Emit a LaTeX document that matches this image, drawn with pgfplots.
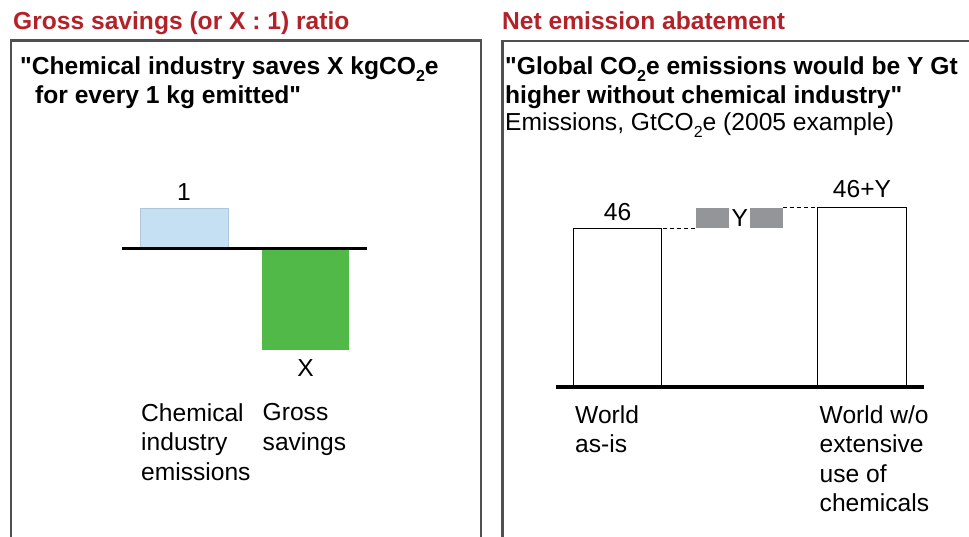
\documentclass[border=0pt]{standalone}
\usepackage{pgfplots}
\pgfplotsset{compat=1.18}
\usepackage{fontspec}
\setmainfont{Liberation Sans}[Ligatures=TeXOff]
\definecolor{titlered}{RGB}{178,34,40}
\definecolor{framegray}{RGB}{80,80,80}
\definecolor{lblue}{RGB}{197,223,243}
\definecolor{lbluedraw}{RGB}{175,200,220}
\definecolor{cgreen}{RGB}{80,185,72}
\definecolor{boxgray}{RGB}{147,149,152}
\newcommand{\fs}{\fontsize{24.6}{29.3}\selectfont}
\newcommand{\sub}[1]{\raisebox{-0.28em}{\fontsize{16}{16}\selectfont #1}}
\begin{document}
\begin{tikzpicture}[x=1pt,y=1pt, txt/.style={font=\fs, inner sep=0pt, text=black}]
\path[use as bounding box] (0,0) rectangle (969,537);
\coordinate (LA) at (123.25,168.5);
\coordinate (RA) at (556.4,150);
% frames
\draw[framegray, line width=2.5pt] (11,-10) -- (11,496.5) -- (481,496.5) -- (481,-10);
\draw[framegray, line width=2.5pt] (502.5,-10) -- (502.5,496) -- (990,496);
% titles
\node[txt, anchor=base west, text=titlered, font=\fs\bfseries] at (13,507) {Gross savings (or X : 1) ratio};
\node[txt, anchor=base west, text=titlered, font=\fs\bfseries] at (502,507) {Net emission abatement};
% quotes
\node[txt, anchor=base west, font=\fs\bfseries] at (20,462) {"Chemical industry saves X kgCO\sub{2}e};
\node[txt, anchor=base west, font=\fs\bfseries] at (35,433) {for every 1 kg emitted"};
\node[txt, anchor=base west, font=\fs\bfseries] at (505,462) {"Global CO\sub{2}e emissions would be Y Gt};
\node[txt, anchor=base west, font=\fs\bfseries] at (505,433) {higher without chemical industry"};
\node[txt, anchor=base west] at (505,406) {Emissions, GtCO\sub{2}e (2005 example)};

% left chart
\begin{axis}[at={(LA)}, anchor=south west, x=121.5pt, y=40pt,
  xmin=-0.5, xmax=1.5, ymin=-3, ymax=1.5, clip=false,
  axis line style={draw=none}, tick style={draw=none}, ytick=\empty,
  xtick={0,1}, xticklabels={{Chemical\\industry\\emissions},{Gross\\savings}},
  xticklabel style={font=\fs, align=left, anchor=north west, inner sep=0pt, xshift=-43pt, yshift=-35pt}]
\addplot[ybar, bar width=0.724, bar shift=0pt, fill=lblue, draw=lbluedraw, line width=0.8pt] coordinates {(0,1)};
\addplot[ybar, bar width=0.716, bar shift=0pt, fill=cgreen, draw=none] coordinates {(1,-2.55)};
\addplot[black, line width=3pt] coordinates {(-0.51,0) (1.51,0)};
\node[txt, anchor=base, yshift=8pt] at (axis cs:0,1) {1};
\node[txt, anchor=base, yshift=-26.5pt] at (axis cs:1,-2.55) {X};
\end{axis}

% right chart
\begin{axis}[at={(RA)}, anchor=south west, x=122.25pt, y=3.45pt,
  xmin=-0.5, xmax=2.5, ymin=0, ymax=60, clip=false,
  axis line style={draw=none}, tick style={draw=none}, ytick=\empty,
  xtick={0,2}, xticklabels={{World\\as-is},{World w/o\\extensive\\use of\\chemicals}},
  xticklabel style={font=\fs, align=left, anchor=north west, inner sep=0pt, xshift=-42.5pt, yshift=-18.5pt}]
\addplot[ybar, bar width=0.724, bar shift=0pt, fill=white, draw=black, line width=1.2pt] coordinates {(0,46) (2,52)};
\addplot[fill=boxgray, draw=none] coordinates {(0.642,46) (0.912,46) (0.912,52) (0.642,52)};
\addplot[fill=boxgray, draw=none] coordinates {(1.084,46) (1.351,46) (1.351,52) (1.084,52)};
\addplot[black, line width=1pt, dash pattern=on 4pt off 3pt] coordinates {(0.373,46) (0.642,46)};
\addplot[black, line width=1pt, dash pattern=on 4pt off 3pt] coordinates {(1.351,52) (1.627,52)};
\addplot[black, line width=3.5pt] coordinates {(-0.5,0) (2.51,0)};
\node[txt, anchor=base, yshift=8pt] at (axis cs:0,46) {46};
\node[txt, anchor=base, yshift=10pt] at (axis cs:2,52) {46+Y};
\node[txt] at (axis cs:1,49) {Y};
\end{axis}
\end{tikzpicture}
\end{document}
